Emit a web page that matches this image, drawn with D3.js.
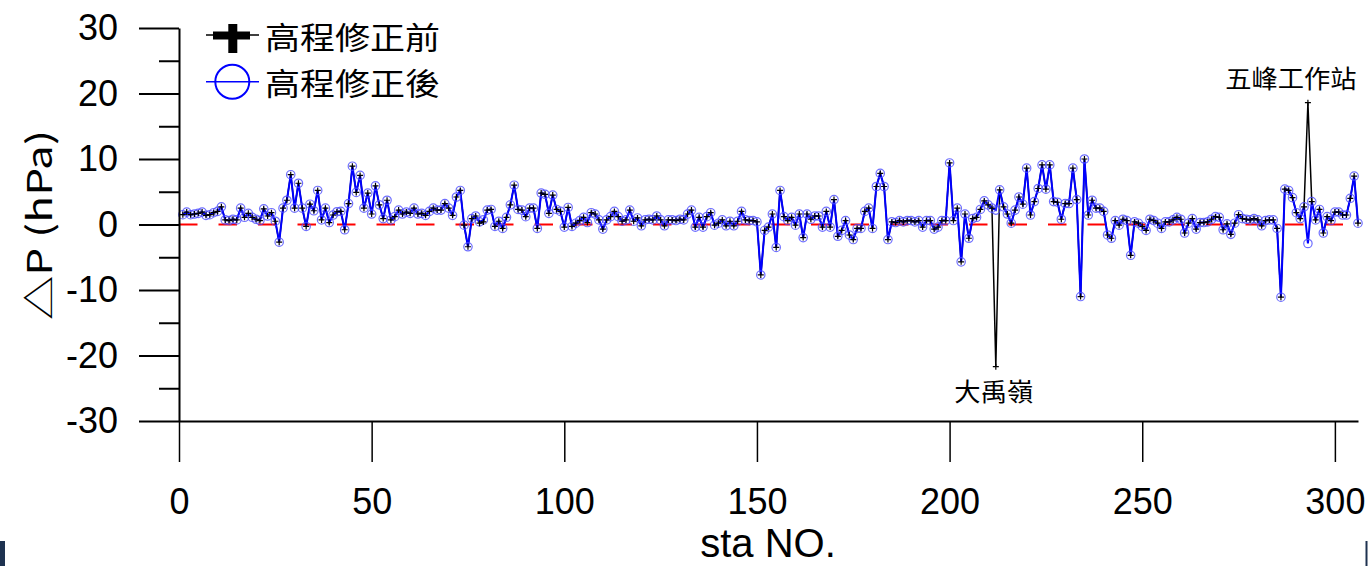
<!DOCTYPE html>
<html>
<head>
<meta charset="utf-8">
<script src="https://cdn.jsdelivr.net/npm/d3@7"></script>
<style>
  html, body { margin: 0; padding: 0; background: #fff; }
  svg { display: block; }
</style>
</head>
<body>
<svg id="chart" width="1369" height="566"></svg>
<script>
// ---------- DATA ----------
// station numbers 1..306 (index categories)
const stations = d3.range(1, 307);

// ΔP after elevation correction (高程修正後)
const afterCorrection = [
  1.5, 1.9, 1.5, 1.6, 1.7, 1.9, 1.4, 1.5, 1.8, 2.0,
  2.7, 0.7, 0.6, 0.8, 0.7, 2.5, 1.1, 1.7, 1.1, 0.8,
  0.6, 2.4, 1.3, 1.8, 0.5, -2.7, 2.5, 3.7, 7.6, 2.5,
  6.3, 2.5, -0.3, 3.1, 2.1, 5.2, 0.7, 2.5, 0.3, 1.45,
  1.95, 2.0, -0.8, 3.2, 8.9, 4.9, 7.5, 2.5, 4.8, 1.6,
  5.9, 3.0, 0.9, 3.7, 0.7, 1.2, 2.2, 1.6, 1.9, 1.7,
  2.5, 1.6, 1.7, 1.4, 2.0, 2.5, 2.2, 2.2, 3.2, 2.5,
  1.4, 4.2, 5.2, -0.1, -3.4, 0.9, 1.3, 0.4, 0.7, 2.2,
  2.3, -0.3, 0.5, -0.6, 1.1, 3.0, 6.0, 2.3, 2.2, 1.2,
  2.5, 2.5, -0.6, 4.8, 4.6, 1.7, 4.5, 2.3, 2.0, -0.4,
  2.6, -0.3, 0.2, 0.6, 1.1, 0.3, 1.8, 1.6, 0.7, -0.7,
  0.7, 1.2, 2.0, 1.2, 0.5, 0.7, 2.2, 0.5, 1.0, -0.2,
  0.7, 0.8, 0.7, 1.3, 0.7, -0.2, 0.7, 0.7, 0.6, 0.8,
  0.7, 1.6, 2.2, -0.4, 1.1, -0.4, 1.2, 1.8, -0.1, 0.2,
  0.7, -0.2, 0.5, -0.2, 0.5, 2.0, 0.7, 0.6, 0.6, 0.4,
  -7.7, -0.9, -0.4, 1.6, -3.5, 5.2, 1.2, 0.6, 1.1, -0.1,
  1.6, -2.0, 1.6, 0.8, 1.3, 1.3, -0.4, 2.0, -0.4, 3.8,
  -1.8, -0.9, 0.6, -1.6, -2.3, -0.6, -0.6, 2.0, 2.5, -0.6,
  5.8, 7.8, 5.8, -2.3, 0.4, 0.3, 0.6, 0.4, 0.6, 0.6,
  0.4, 0.6, -0.4, 0.6, 0.6, -0.7, -0.4, 0.6, 0.6, 9.4,
  0.6, 2.5, -5.7, 1.6, -2.1, 0.9, 1.1, 2.3, 3.6, 3.0,
  2.5, 2.2, 5.3, 2.7, 1.6, 0.2, 2.2, 4.2, 3.1, 8.6,
  1.45, 3.5, 5.5, 9.1, 5.4, 9.1, 3.5, 3.4, 0.8, 3.2,
  3.2, 8.6, 3.8, -11.0, 10.0, 1.45, 3.7, 2.5, 2.5, 2.0,
  -1.6, -2.1, 0.6, -0.1, 0.8, 0.6, -4.7, 0.4, 0.2, -0.3,
  -0.9, 0.8, 0.6, 0.2, -0.6, 0.4, 0.4, 0.7, 1.1, 0.8,
  -1.3, 0.2, 0.9, -0.7, 0.3, 0.3, 0.4, 0.8, 1.2, 1.1,
  -0.8, 0.1, -1.5, 0.2, 1.5, 0.9, 0.8, 0.7, 0.9, 0.7,
  -0.2, 0.6, 0.7, 0.7, -0.6, -11.1, 5.4, 5.2, 4.1, 1.8,
  0.9, 2.7, -2.9, 3.5, 0.7, 2.3, -1.3, 1.2, 0.6, 1.9,
  1.9, 1.45, 1.45, 4.0, 7.4, 0.2
];

// ΔP before elevation correction (高程修正前)
const beforeCorrection = [
  1.5, 1.9, 1.5, 1.6, 1.7, 1.9, 1.4, 1.5, 1.8, 2.0,
  2.7, 0.7, 0.6, 0.8, 0.7, 2.5, 1.1, 1.7, 1.1, 0.8,
  0.6, 2.4, 1.3, 1.8, 0.5, -2.7, 2.5, 3.7, 7.6, 2.5,
  6.3, 2.5, -0.3, 3.1, 2.1, 5.2, 0.7, 2.5, 0.3, 1.45,
  1.95, 2.0, -0.8, 3.2, 8.9, 4.9, 7.5, 2.5, 4.8, 1.6,
  5.9, 3.0, 0.9, 3.7, 0.7, 1.2, 2.2, 1.6, 1.9, 1.7,
  2.5, 1.6, 1.7, 1.4, 2.0, 2.5, 2.2, 2.2, 3.2, 2.5,
  1.4, 4.2, 5.2, -0.1, -3.4, 0.9, 1.3, 0.2, 0.4, 2.2,
  2.3, -0.3, 0.5, -0.6, 1.1, 3.0, 6.0, 2.3, 2.2, 1.2,
  2.5, 2.5, -0.6, 4.8, 4.6, 1.7, 4.5, 2.3, 2.0, -0.4,
  2.6, -0.3, 0.2, 0.6, 1.1, 0.3, 1.8, 1.6, 0.7, -0.7,
  0.7, 1.2, 2.0, 1.2, 0.5, 0.7, 2.2, 0.5, 1.0, -0.2,
  0.7, 0.8, 0.7, 1.3, 0.7, -0.2, 0.7, 0.7, 0.6, 0.8,
  0.7, 1.6, 2.2, -0.4, 1.1, -0.4, 1.2, 1.8, -0.1, 0.2,
  0.7, -0.2, 0.5, -0.2, 0.5, 2.0, 0.7, 0.6, 0.6, 0.4,
  -7.7, -0.9, -0.4, 1.6, -3.5, 5.2, 1.2, 0.6, 1.1, -0.1,
  1.6, -2.0, 1.6, 0.8, 1.3, 1.3, -0.4, 2.0, -0.4, 3.8,
  -1.8, -0.9, 0.6, -1.6, -2.3, -0.6, -0.6, 2.0, 2.5, -0.6,
  5.8, 7.8, 5.8, -2.3, 0.4, 0.3, 0.6, 0.4, 0.6, 0.6,
  0.4, 0.6, -0.4, 0.6, 0.6, -0.7, -0.4, 0.6, 0.6, 9.4,
  0.6, 2.5, -5.7, 1.6, -2.1, 0.9, 1.1, 2.3, 3.6, 3.0,
  2.5, -21.7, 5.3, 2.7, 1.6, 0.2, 2.2, 4.2, 3.1, 8.6,
  1.45, 3.5, 5.5, 9.1, 5.4, 9.1, 3.5, 3.4, 0.8, 3.2,
  3.2, 8.6, 3.8, -11.0, 10.0, 1.45, 3.7, 2.5, 2.5, 2.0,
  -1.6, -2.1, 0.6, -0.1, 0.8, 0.6, -4.7, 0.4, 0.2, -0.3,
  -0.9, 0.8, 0.6, 0.2, -0.6, 0.4, 0.4, 0.7, 1.1, 0.8,
  -1.3, 0.2, 0.9, -0.7, 0.3, 0.3, 0.4, 0.8, 1.2, 1.1,
  -0.8, 0.1, -1.5, 0.2, 1.5, 0.9, 0.8, 0.7, 0.9, 0.7,
  -0.2, 0.6, 0.7, 0.7, -0.6, -11.1, 5.4, 5.2, 4.1, 1.8,
  0.9, 2.7, 18.6, 3.5, 0.7, 2.3, -1.3, 1.2, 0.6, 1.9,
  1.9, 1.45, 1.45, 4.0, 7.4, 0.2
];

const xTicks = [0, 50, 100, 150, 200, 250, 300];
const yTicks = [-30, -20, -10, 0, 10, 20, 30];
const yMinorTicks = [-25, -15, -5, 5, 15, 25];
const seriesNames = ["高程修正前", "高程修正後"];
const annotations = [
  { sta: 212, label: "大禹嶺", where: "below", dx: -2 },
  { sta: 293, label: "五峰工作站", where: "above", dx: -17 }
];
const xTitle = "sta NO.";
const yTitle = "\u25B3P (hPa)";

// ---------- CHART ----------
const svg = d3.select("#chart");
const latin = "'Liberation Sans', Arial, sans-serif";
const cjk = "'Noto Sans CJK TC', 'Noto Sans CJK SC', sans-serif";

const x = d3.scaleLinear().domain([0, 306]).range([179, 1358]);
const y = d3.scaleLinear().domain([-30, 30]).range([421, 28]);

const before = stations.map((s, i) => ({ s, v: beforeCorrection[i] }));
const after = stations.map((s, i) => ({ s, v: afterCorrection[i] }));

// zero reference line (red dashed)
svg.append("line")
  .attr("x1", x(0)).attr("x2", x(306))
  .attr("y1", y(0)).attr("y2", y(0))
  .attr("stroke", "#ff0000").attr("stroke-width", 2)
  .attr("stroke-dasharray", "18.5,21");

const line = d3.line().x(d => x(d.s)).y(d => y(d.v));

svg.append("path").datum(before)
  .attr("d", line).attr("fill", "none")
  .attr("stroke", "#000").attr("stroke-width", 1.5);

svg.append("path").datum(after)
  .attr("d", line).attr("fill", "none")
  .attr("stroke", "#0000ff").attr("stroke-width", 2);

svg.append("g").selectAll("circle").data(after).join("circle")
  .attr("cx", d => x(d.s)).attr("cy", d => y(d.v)).attr("r", 4.2)
  .attr("fill", "none").attr("stroke", "#4a4aff").attr("stroke-width", 1.2)
  .attr("stroke-opacity", 0.8);

svg.append("g").selectAll("path").data(before).join("path")
  .attr("transform", d => `translate(${x(d.s)},${y(d.v)})`)
  .attr("d", "M-3,0H3M0,-3V3")
  .attr("stroke", "#000").attr("stroke-width", 1.2).attr("fill", "none");

// axes
const fmt = d => String(d);
const yAxis = svg.append("g").attr("transform", `translate(${x(0)},0)`)
  .call(d3.axisLeft(y).tickValues(yTicks).tickSize(40).tickSizeOuter(0).tickPadding(21)
    .tickFormat(fmt));
yAxis.select(".domain").attr("stroke-width", 2);
yAxis.selectAll(".tick line").attr("stroke-width", 2);
yAxis.selectAll(".tick text").attr("font-size", 36).attr("font-family", latin).attr("fill", "#000");

const yMinor = svg.append("g").attr("transform", `translate(${x(0)},0)`)
  .call(d3.axisLeft(y).tickValues(yMinorTicks).tickSize(20).tickSizeOuter(0).tickFormat(""));
yMinor.select(".domain").remove();
yMinor.selectAll(".tick line").attr("stroke-width", 2);

const xAxis = svg.append("g").attr("transform", `translate(0,${y(-30)})`)
  .call(d3.axisBottom(x).tickValues(xTicks).tickSize(41).tickSizeOuter(0).tickPadding(26)
    .tickFormat(fmt));
xAxis.select(".domain").attr("stroke-width", 2);
xAxis.selectAll(".tick line").attr("stroke-width", 1.5);
xAxis.selectAll(".tick text").attr("font-size", 36).attr("font-family", latin).attr("fill", "#000");

// axis titles
svg.append("text")
  .attr("transform", "translate(37,225) rotate(-90)")
  .attr("text-anchor", "middle").attr("dominant-baseline", "central")
  .attr("font-family", cjk).attr("font-size", 34)
  .attr("textLength", 190).attr("lengthAdjust", "spacingAndGlyphs")
  .text(yTitle);

svg.append("text")
  .attr("x", 768).attr("y", 557)
  .attr("text-anchor", "middle")
  .attr("font-family", latin).attr("font-size", 40)
  .text(xTitle);

// annotations
annotations.forEach(a => {
  const v = beforeCorrection[a.sta - 1];
  svg.append("text")
    .attr("x", x(a.sta) + a.dx)
    .attr("y", a.where === "below" ? y(v) + 23 : y(v) - 26)
    .attr("text-anchor", "middle").attr("dominant-baseline", "central")
    .attr("font-family", cjk).attr("font-size", 25)
    .attr("textLength", a.label.length * 26.3).attr("lengthAdjust", "spacingAndGlyphs")
    .text(a.label);
});

// legend
const lg = svg.append("g");
// row 1: before (black cross)
lg.append("line").attr("x1", 206).attr("x2", 259).attr("y1", 35).attr("y2", 35)
  .attr("stroke", "#000").attr("stroke-width", 1.5);
lg.append("rect").attr("x", 213).attr("y", 31.5).attr("width", 37).attr("height", 8).attr("fill", "#000");
lg.append("rect").attr("x", 228.3).attr("y", 24).attr("width", 9).attr("height", 29).attr("fill", "#000");
lg.append("text").attr("x", 265).attr("y", 35).attr("dominant-baseline", "central")
  .attr("font-family", cjk).attr("font-size", 31)
  .attr("textLength", 175).attr("lengthAdjust", "spacingAndGlyphs")
  .text(seriesNames[0]);
// row 2: after (blue circle)
lg.append("line").attr("x1", 206).attr("x2", 259).attr("y1", 81.7).attr("y2", 81.7)
  .attr("stroke", "#0000ff").attr("stroke-width", 1.5);
lg.append("circle").attr("cx", 232.3).attr("cy", 81.7).attr("r", 17)
  .attr("fill", "none").attr("stroke", "#0000ff").attr("stroke-width", 2);
lg.append("text").attr("x", 265).attr("y", 81).attr("dominant-baseline", "central")
  .attr("font-family", cjk).attr("font-size", 31)
  .attr("textLength", 175).attr("lengthAdjust", "spacingAndGlyphs")
  .text(seriesNames[1]);

// page-edge bars seen at the bottom of the reference
svg.append("rect").attr("x", 0).attr("y", 541).attr("width", 5).attr("height", 25).attr("fill", "#1e3250");
svg.append("rect").attr("x", 1365.5).attr("y", 541).attr("width", 2).attr("height", 25).attr("fill", "#1e3250");
</script>
</body>
</html>
